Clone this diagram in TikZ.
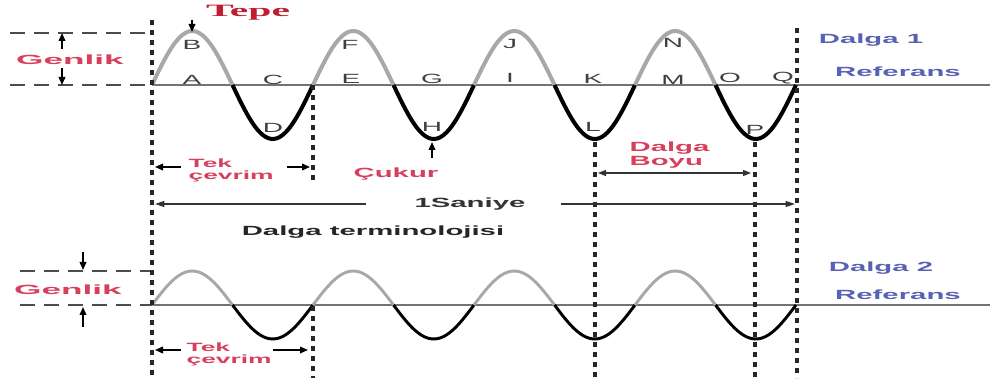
\documentclass[tikz,border=0pt]{standalone}
\usepackage{fontspec}
\setmainfont{Liberation Sans}
\newfontfamily\tepefont{Liberation Serif}
\usetikzlibrary{arrows.meta}
\definecolor{LabelRed}{RGB}{214,64,92}
\definecolor{TepeRed}{RGB}{192,30,48}
\definecolor{RefBlue}{RGB}{88,98,178}
\definecolor{CrestGray}{RGB}{168,168,168}

\begin{document}
\begin{tikzpicture}[x=0.75pt, y=-0.75pt,
	guide/.style={dash pattern=on 11pt off 7pt, line width=0.8pt, black!70},
	refline/.style={line width=1.1pt, black!55},
	cycleline/.style={black!85, dash pattern=on 4pt off 3.5pt, line width=2.6pt},
	tick/.style={-{Triangle[length=6pt,width=5pt]}, line width=1.1pt},
	span/.style={{Triangle[length=6pt,width=4.5pt]}-{Triangle[length=6pt,width=4.5pt]}, line width=0.9pt, black!80},
	letter/.style={xscale=2.1, inner sep=0pt, text=black!75, font=\fontsize{10}{11}\selectfont},
	redlbl/.style={xscale=2.2, inner sep=0pt, text=LabelRed, font=\bfseries\fontsize{10}{11}\selectfont, align=left},
	bluelbl/.style={xscale=2.2, inner sep=0pt, text=RefBlue, font=\bfseries\fontsize{10}{11}\selectfont}
	]
	\useasboundingbox (0,0) rectangle (990,381);
	
	% wave 1
	\coordinate (O1) at (152,85);
	\coordinate (R1) at (990,85);
	\coordinate (G1a) at (10,33);
	\coordinate (G1b) at (152,33);
	\coordinate (G1c) at (10,85);
	\draw[guide] (G1a) -- (G1b);
	\draw[guide] (G1c) -- (O1);
	\draw[refline] (O1) -- (R1);
	\foreach \k in {0,...,3}{
		\pgfmathsetmacro{\xa}{152+161*\k}
		\pgfmathsetmacro{\xb}{\xa+80.5}
		\pgfmathsetmacro{\xc}{\xa+161}
		\draw[line width=3pt, CrestGray] plot[domain=\xa:\xb, samples=30, smooth] (\x,{85-54*sin(2.236025*(\x-152))});
		\draw[line width=3pt, black] plot[domain=\xb:\xc, samples=30, smooth] (\x,{85-54*sin(2.236025*(\x-152))});
	}
	
	% wave 2
	\coordinate (O2) at (152,305);
	\coordinate (R2) at (990,305);
	\coordinate (G2a) at (20,271);
	\coordinate (G2b) at (152,271);
	\coordinate (G2c) at (20,305);
	\draw[guide] (G2a) -- (G2b);
	\draw[guide] (G2c) -- (O2);
	\draw[refline] (O2) -- (R2);
	\foreach \k in {0,...,3}{
		\pgfmathsetmacro{\xa}{152+161*\k}
		\pgfmathsetmacro{\xb}{\xa+80.5}
		\pgfmathsetmacro{\xc}{\xa+161}
		\draw[line width=2.2pt, CrestGray] plot[domain=\xa:\xb, samples=30, smooth] (\x,{305-34*sin(2.236025*(\x-152))});
		\draw[line width=2.2pt, black] plot[domain=\xb:\xc, samples=30, smooth] (\x,{305-34*sin(2.236025*(\x-152))});
	}
	
	% dotted cycle lines
	\coordinate (M0t) at (152,20);
	\coordinate (M0b) at (152,378);
	\coordinate (M1t) at (313,85);
	\coordinate (M1m) at (313,184);
	\coordinate (M1u) at (313,306);
	\coordinate (M1b) at (313,378);
	\coordinate (M2t) at (595,142);
	\coordinate (M2b) at (595,378);
	\coordinate (M3t) at (755,142);
	\coordinate (M3b) at (755,378);
	\coordinate (M4t) at (797,28);
	\coordinate (M4b) at (797,378);
	\draw[cycleline] (M0t) -- (M0b);
	\draw[cycleline] (M1t) -- (M1m);
	\draw[cycleline] (M1u) -- (M1b);
	\draw[cycleline] (M2t) -- (M2b);
	\draw[cycleline] (M3t) -- (M3b);
	\draw[cycleline] (M4t) -- (M4b);
	
	% letters
	\node[letter] (B) at (192,45) {B};
	\node[letter] (A) at (192,80) {A};
	\node[letter] (C) at (273,80) {C};
	\node[letter] (D) at (273,128) {D};
	\node[letter] (E) at (351,79) {E};
	\node[letter] (F) at (350,45) {F};
	\node[letter] (G) at (432,79) {G};
	\node[letter] (H) at (432,127) {H};
	\node[letter] (I) at (510,78) {I};
	\node[letter] (J) at (510,44) {J};
	\node[letter] (K) at (593,79) {K};
	\node[letter] (L) at (593,127) {L};
	\node[letter] (M) at (673,80) {M};
	\node[letter] (N) at (673,43) {N};
	\node[letter] (O) at (730,78) {O};
	\node[letter] (Q) at (783,78) {Q};
	\node[letter] (P) at (755,130) {P};
	
	% amplitude, crest and trough
	\node[redlbl, xscale=1.2] (genlik1) at (70,60) {Genlik};
	\coordinate (a1s) at (62,49);
	\coordinate (a1t) at (62,68);
	\coordinate (a1hi) at (62,33);
	\coordinate (a1lo) at (62,85);
	\draw[tick] (a1s) -- (a1hi);
	\draw[tick] (a1t) -- (a1lo);
	\node[xscale=2.4, inner sep=0pt, text=TepeRed, font=\tepefont\bfseries\fontsize{13}{14}\selectfont] (tepe) at (248,13) {Tepe};
	\coordinate (tp0) at (192,20);
	\coordinate (tp1) at (192,32);
	\draw[tick] (tp0) -- (tp1);
	\coordinate (ck0) at (432,158);
	\coordinate (ck1) at (432,142);
	\draw[tick] (ck0) -- (ck1);
	\node[redlbl] (cukur) at (396,174) {Çukur};
	
	% single cycle, wavelength
	\node[redlbl, anchor=west, font=\bfseries\fontsize{9}{9}\selectfont] (tek1) at (188,170) {Tek\\çevrim};
	\coordinate (t1a) at (181,167);
	\coordinate (t1b) at (155,167);
	\coordinate (t1c) at (287,167);
	\coordinate (t1d) at (310,167);
	\draw[tick] (t1a) -- (t1b);
	\draw[tick] (t1c) -- (t1d);
	\node[redlbl, anchor=west] (boyu) at (629,155) {Dalga\\Boyu};
	\coordinate (wl0) at (598,173);
	\coordinate (wl1) at (751,173);
	\draw[span] (wl0) -- (wl1);
	
	% one second
	\node[xscale=2.2, inner sep=0pt, font=\bfseries\fontsize{10}{11}\selectfont, text=black!80] (saniye) at (470,204) {1Saniye};
	\coordinate (s0) at (155,204);
	\coordinate (s1) at (795,204);
	\draw[-{Triangle[length=7pt,width=4.5pt]}, line width=0.9pt, black!80] (saniye.west) ++(-36pt,0) -- (s0);
	\draw[-{Triangle[length=7pt,width=4.5pt]}, line width=0.9pt, black!80] (saniye.east) ++(26pt,0) -- (s1);
	\node[xscale=2.2, inner sep=0pt, font=\bfseries\fontsize{10}{11}\selectfont, text=black!85] (term) at (373,232) {Dalga terminolojisi};
	
	% wave 2 labels
	\node[redlbl, xscale=1.2] (genlik2) at (68,290) {Genlik};
	\coordinate (a2s) at (83,252);
	\coordinate (a2hi) at (83,270);
	\coordinate (a2t) at (83,327);
	\coordinate (a2lo) at (83,307);
	\draw[tick] (a2s) -- (a2hi);
	\draw[tick] (a2t) -- (a2lo);
	\node[redlbl, anchor=west, font=\bfseries\fontsize{9}{9}\selectfont] (tek2) at (186,354) {Tek\\çevrim};
	\coordinate (t2a) at (181,350);
	\coordinate (t2b) at (155,350);
	\coordinate (t2c) at (273,350);
	\coordinate (t2d) at (308,350);
	\draw[tick] (t2a) -- (t2b);
	\draw[tick] (t2c) -- (t2d);
	
	\node[bluelbl] (dalga1) at (871,40) {Dalga 1};
	\node[bluelbl] (ref1) at (898,72) {Referans};
	\node[bluelbl] (dalga2) at (881,268) {Dalga 2};
	\node[bluelbl] (ref2) at (898,295) {Referans};
\end{tikzpicture}
\end{document}
